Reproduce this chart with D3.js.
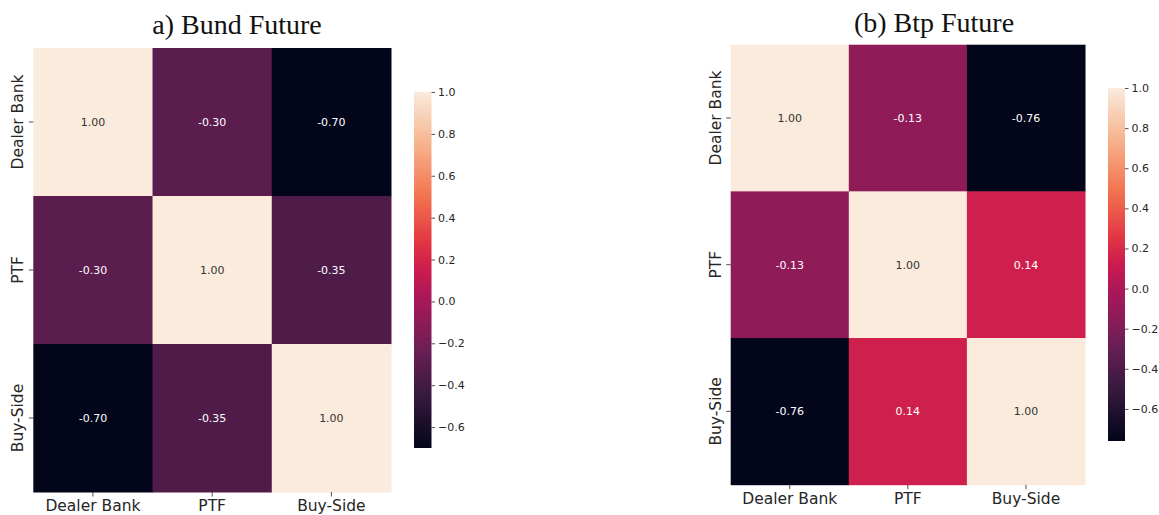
<!DOCTYPE html>
<html>
<head>
<meta charset="utf-8">
<script src="https://cdn.jsdelivr.net/npm/d3@7"></script>
<style>
  html, body { margin: 0; padding: 0; background: #fff; }
  svg { display: block; }
</style>
</head>
<body>
<svg id="fig" width="1159" height="515"></svg>
<script>
// Participant groups shared by both correlation matrices
const groups = ["Dealer Bank", "PTF", "Buy-Side"];

// Correlation matrices (row-major, rows/cols follow `groups`)
const bundValues = [
  [1.00, -0.30, -0.70],
  [-0.30, 1.00, -0.35],
  [-0.70, -0.35, 1.00]
];
const btpValues = [
  [1.00, -0.13, -0.76],
  [-0.13, 1.00, 0.14],
  [-0.76, 0.14, 1.00]
];

// Colour bar ticks
const colorbarTicks = [-0.6, -0.4, -0.2, 0.0, 0.2, 0.4, 0.6, 0.8, 1.0];

const titles = ["a) Bund Future", "(b) Btp Future"];

// "rocket" sequential palette control colours
const rocketPos = [0, 1 / 7, 2 / 7, 3 / 7, 0.5, 4 / 7, 5 / 7, 6 / 7, 1];
const rocketStops = ["#03051a", "#35193e", "#701f57", "#ad1759", "#cb1b4f", "#e13342", "#f37651", "#f6b48f", "#faebdd"];
const rocket = d3.scaleLinear()
  .domain(rocketPos)
  .range(rocketStops)
  .interpolate(d3.interpolateRgb)
  .clamp(true);

// annotations keep an ASCII hyphen, colour bar uses a true minus sign
const annotFmt = d3.formatLocale({ decimal: ".", thousands: ",", grouping: [3], currency: ["", ""], minus: "-" }).format(".2f");
const cbFmt = d3.format(".1f");

const svg = d3.select("#fig");
const defs = svg.append("defs");
const textColor = "#262626";

const panels = [
  {
    values: bundValues, title: titles[0],
    x0: 33.3, x1: 391, y0: 48, y1: 492,
    cb: { x: 414, w: 17.5, y0: 92, y1: 448 },
    titleX: 237, titleY: 34
  },
  {
    values: btpValues, title: titles[1],
    x0: 730.7, x1: 1085, y0: 44.7, y1: 484.7,
    cb: { x: 1108, w: 17, y0: 88, y1: 441 },
    titleX: 934, titleY: 32
  }
];

panels.forEach((p, pi) => {
  const flat = p.values.flat();
  const vmin = d3.min(flat), vmax = d3.max(flat);
  const norm = d3.scaleLinear().domain([vmin, vmax]).range([0, 1]);
  const color = v => rocket(norm(v));

  const x = d3.scaleBand().domain(groups).range([p.x0, p.x1]);
  const y = d3.scaleBand().domain(groups).range([p.y0, p.y1]);

  const g = svg.append("g");

  const cells = [];
  p.values.forEach((row, i) => row.forEach((v, j) => cells.push({ r: groups[i], c: groups[j], v })));

  g.selectAll("rect.cell").data(cells).join("rect")
    .attr("class", "cell")
    .attr("x", d => x(d.c))
    .attr("y", d => y(d.r))
    .attr("width", x.bandwidth() + 0.5)
    .attr("height", y.bandwidth() + 0.5)
    .attr("fill", d => color(d.v));

  g.selectAll("text.annot").data(cells).join("text")
    .attr("class", "annot")
    .attr("x", d => x(d.c) + x.bandwidth() / 2)
    .attr("y", d => y(d.r) + y.bandwidth() / 2)
    .attr("dy", "0.35em")
    .attr("text-anchor", "middle")
    .attr("font-family", "DejaVu Sans")
    .attr("font-size", 11)
    .attr("fill", d => {
      const c = d3.rgb(color(d.v));
      const lum = 0.2126 * c.r / 255 + 0.7152 * c.g / 255 + 0.0722 * c.b / 255;
      return lum > 0.408 ? "#333333" : "#ffffff";
    })
    .text(d => annotFmt(d.v));

  // Axes
  const xAxis = d3.axisBottom(x).tickSize(4.5).tickPadding(3.5);
  const gx = g.append("g").attr("transform", `translate(0,${p.y1})`).call(xAxis);
  gx.select(".domain").remove();
  gx.selectAll(".tick line").attr("stroke", textColor).attr("stroke-width", 0.8);
  gx.selectAll(".tick text").attr("font-family", "DejaVu Sans").attr("font-size", 15.5).attr("fill", textColor);

  const yAxis = d3.axisLeft(y).tickSize(4.5).tickPadding(3.5);
  const gy = g.append("g").attr("transform", `translate(${p.x0},0)`).call(yAxis);
  gy.select(".domain").remove();
  gy.selectAll(".tick line").attr("stroke", textColor).attr("stroke-width", 0.8);
  gy.selectAll(".tick text")
    .attr("font-family", "DejaVu Sans").attr("font-size", 15.5).attr("fill", textColor)
    .attr("transform", "rotate(-90)")
    .attr("x", 0).attr("y", -10).attr("dy", 0)
    .attr("text-anchor", "middle");

  // Title
  svg.append("text")
    .attr("x", p.titleX).attr("y", p.titleY)
    .attr("text-anchor", "middle")
    .attr("font-family", "Liberation Serif")
    .attr("font-size", 28)
    .attr("fill", "#111")
    .text(p.title);

  // Colour bar
  const cbScale = d3.scaleLinear().domain([vmin, vmax]).range([p.cb.y1, p.cb.y0]);
  const gradId = "cbgrad" + pi;
  const grad = defs.append("linearGradient").attr("id", gradId)
    .attr("x1", 0).attr("y1", 1).attr("x2", 0).attr("y2", 0);
  d3.range(0, 1.0001, 0.02).forEach(t => {
    grad.append("stop").attr("offset", t).attr("stop-color", rocket(t));
  });
  const cbg = svg.append("g");
  cbg.append("rect")
    .attr("x", p.cb.x).attr("y", p.cb.y0)
    .attr("width", p.cb.w).attr("height", p.cb.y1 - p.cb.y0)
    .attr("fill", `url(#${gradId})`);
  const cbAxis = d3.axisRight(cbScale).tickValues(colorbarTicks).tickSize(3.5).tickPadding(3)
    .tickFormat(cbFmt);
  const gcb = cbg.append("g").attr("transform", `translate(${p.cb.x + p.cb.w},0)`).call(cbAxis);
  gcb.select(".domain").remove();
  gcb.selectAll(".tick line").attr("stroke", textColor).attr("stroke-width", 0.8);
  gcb.selectAll(".tick text").attr("font-family", "DejaVu Sans").attr("font-size", 11).attr("fill", textColor);
});
</script>
</body>
</html>
